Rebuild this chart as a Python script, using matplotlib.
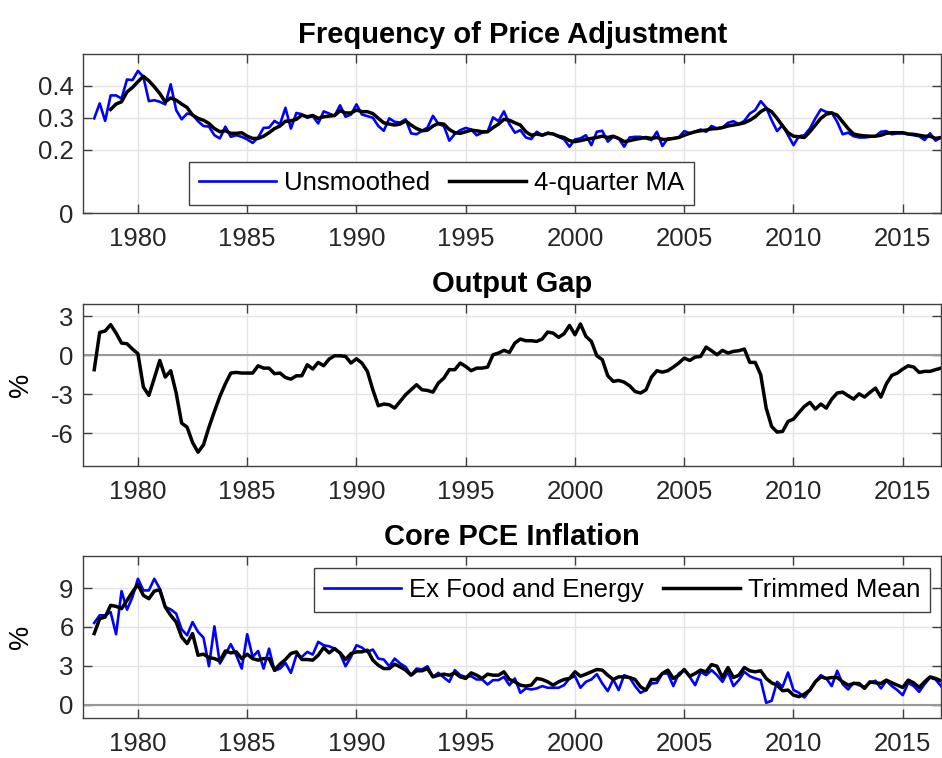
import numpy as np
import matplotlib
matplotlib.use("Agg")
import matplotlib.pyplot as plt

plt.rcParams['font.family'] = ['Liberation Sans', 'DejaVu Sans']
plt.rcParams['axes.unicode_minus'] = False

# ---------------- data (quarterly, 1978Q1 - 2016Q4) ----------------
start_year = 1978
n_quarters = 156

freq_unsmoothed = [
    0.298, 0.345, 0.29, 0.37,
    0.37, 0.36, 0.42, 0.418,
    0.447, 0.428, 0.352, 0.355,
    0.35, 0.342, 0.405, 0.324,
    0.295, 0.313, 0.31, 0.289,
    0.274, 0.272, 0.245, 0.235,
    0.272, 0.24, 0.245, 0.24,
    0.232, 0.221, 0.238, 0.268,
    0.269, 0.29, 0.279, 0.331,
    0.266, 0.315, 0.311, 0.30,
    0.305, 0.282, 0.32, 0.313,
    0.306, 0.339, 0.303, 0.31,
    0.342, 0.31, 0.305, 0.30,
    0.274, 0.259, 0.298, 0.287,
    0.285, 0.295, 0.251, 0.248,
    0.259, 0.269, 0.306, 0.28,
    0.274, 0.228, 0.249, 0.261,
    0.268, 0.263, 0.245, 0.253,
    0.256, 0.301, 0.289, 0.32,
    0.28, 0.253, 0.261, 0.238,
    0.233, 0.256, 0.245, 0.253,
    0.249, 0.24, 0.232, 0.209,
    0.232, 0.235, 0.245, 0.214,
    0.256, 0.259, 0.225, 0.24,
    0.235, 0.209, 0.238, 0.24,
    0.24, 0.235, 0.23, 0.256,
    0.211, 0.235, 0.235, 0.238,
    0.258, 0.251, 0.256, 0.263,
    0.256, 0.274, 0.266, 0.269,
    0.284, 0.289, 0.28, 0.29,
    0.313, 0.324, 0.352, 0.332,
    0.292, 0.258, 0.277, 0.245,
    0.214, 0.242, 0.245, 0.266,
    0.298, 0.326, 0.318, 0.316,
    0.287, 0.248, 0.253, 0.242,
    0.238, 0.238, 0.24, 0.242,
    0.256, 0.258, 0.248, 0.251,
    0.251, 0.248, 0.245, 0.242,
    0.23, 0.251, 0.228, 0.238,
]

freq_ma = [
    None, None, None, 0.326,
    0.343, 0.35, 0.381, 0.395,
    0.413, 0.43, 0.416, 0.397,
    0.376, 0.35, 0.362, 0.355,
    0.343, 0.332, 0.308, 0.298,
    0.292, 0.282, 0.266, 0.256,
    0.259, 0.251, 0.251, 0.253,
    0.242, 0.235, 0.235, 0.242,
    0.253, 0.266, 0.274, 0.289,
    0.29, 0.295, 0.308, 0.303,
    0.307, 0.298, 0.303, 0.305,
    0.307, 0.322, 0.315, 0.315,
    0.324, 0.319, 0.319, 0.313,
    0.298, 0.284, 0.28, 0.277,
    0.28, 0.29, 0.277, 0.266,
    0.259, 0.261, 0.274, 0.282,
    0.28, 0.263, 0.253, 0.251,
    0.256, 0.261, 0.259, 0.256,
    0.256, 0.269, 0.28, 0.295,
    0.292, 0.284, 0.277, 0.256,
    0.245, 0.249, 0.245, 0.251,
    0.249, 0.242, 0.238, 0.228,
    0.225, 0.228, 0.232, 0.235,
    0.238, 0.242, 0.238, 0.242,
    0.235, 0.225, 0.228, 0.232,
    0.235, 0.238, 0.235, 0.238,
    0.232, 0.232, 0.235, 0.238,
    0.245, 0.251, 0.256, 0.259,
    0.261, 0.265, 0.266, 0.269,
    0.274, 0.277, 0.28, 0.284,
    0.292, 0.303, 0.319, 0.329,
    0.319, 0.298, 0.274, 0.253,
    0.242, 0.24, 0.238, 0.256,
    0.277, 0.298, 0.311, 0.315,
    0.308, 0.287, 0.266, 0.249,
    0.245, 0.243, 0.242, 0.242,
    0.245, 0.251, 0.253, 0.253,
    0.253, 0.249, 0.248, 0.245,
    0.242, 0.242, 0.235, 0.238,
]

output_gap = [
    -1.1, 1.77, 1.88, 2.37,
    1.72, 0.95, 0.9, 0.49,
    0.13, -2.44, -3.08, -1.75,
    -0.39, -1.67, -1.18, -2.9,
    -5.22, -5.53, -6.71, -7.46,
    -6.89, -5.53, -4.32, -3.16,
    -2.19, -1.36, -1.31, -1.36,
    -1.36, -1.36, -0.8, -0.98,
    -0.98, -1.41, -1.36, -1.7,
    -1.83, -1.57, -1.57, -0.72,
    -1.05, -0.54, -0.8, -0.28,
    -0.03, -0.03, -0.08, -0.59,
    -0.26, -0.59, -1.23, -2.65,
    -3.88, -3.75, -3.8, -4.06,
    -3.55, -3.03, -2.65, -2.26,
    -2.65, -2.7, -2.83, -2.13,
    -1.75, -1.1, -1.1, -0.59,
    -0.85, -1.18, -0.98, -0.98,
    -0.9, 0.05, 0.18, 0.39,
    0.23, 0.95, 1.26, 1.13,
    1.13, 1.08, 1.26, 1.8,
    1.72, 1.39, 1.67, 2.31,
    1.59, 2.42, 1.47, 1.08,
    -0.03, -0.33, -1.57, -2.0,
    -1.93, -2.06, -2.34, -2.78,
    -2.9, -2.65, -1.67, -1.18,
    -1.29, -1.18, -0.9, -0.59,
    -0.21, -0.39, -0.13, -0.08,
    0.64, 0.36, 0.05, 0.39,
    0.18, 0.31, 0.36, 0.49,
    -0.54, -0.54, -1.49, -4.06,
    -5.48, -5.91, -5.86, -5.09,
    -4.91, -4.4, -3.93, -3.62,
    -4.14, -3.75, -4.06, -3.37,
    -2.9, -2.83, -3.11, -3.37,
    -2.96, -3.21, -2.85, -2.52,
    -3.21, -2.19, -1.54, -1.36,
    -1.05, -0.8, -0.9, -1.31,
    -1.23, -1.23, -1.1, -0.98,
]

pce_ex_food_energy = [
    6.31, 6.9, 6.9, 7.15,
    5.44, 8.77, 7.33, 8.31,
    9.72, 8.82, 8.82, 9.72,
    8.95, 7.54, 7.36, 7.03,
    5.82, 5.36, 6.38, 5.62,
    5.18, 2.97, 6.05, 3.18,
    3.9, 4.67, 3.82, 2.79,
    5.44, 3.69, 4.15, 2.79,
    4.33, 2.62, 2.79, 3.23,
    2.46, 3.82, 3.69, 4.08,
    3.87, 4.85, 4.59, 4.51,
    4.33, 3.95, 2.97, 3.69,
    4.59, 4.41, 4.08, 4.26,
    3.56, 3.49, 2.97, 3.56,
    3.18, 2.92, 2.28, 2.79,
    2.72, 2.97, 2.15, 2.46,
    2.1, 1.77, 2.67, 2.28,
    2.15, 2.2, 1.95, 1.95,
    1.56, 1.9, 1.9, 2.15,
    1.51, 2.03, 0.92, 1.26,
    1.18, 1.26, 1.44, 1.31,
    1.31, 1.31, 1.51, 2.03,
    2.2, 1.31, 1.77, 1.95,
    2.36, 1.64, 1.05, 1.95,
    1.13, 2.28, 2.1, 1.44,
    0.92, 1.13, 1.64, 1.69,
    2.41, 2.41, 1.44, 2.41,
    2.67, 2.15, 1.51, 2.54,
    2.28, 2.67, 2.28, 1.77,
    2.54, 1.44, 1.9, 2.54,
    2.2, 2.03, 1.9, 0.15,
    0.31, 1.77, 1.38, 2.49,
    1.13, 0.92, 0.56, 1.13,
    1.77, 2.28, 2.03, 1.44,
    2.62, 1.59, 1.18, 1.69,
    1.51, 1.38, 1.69, 1.85,
    1.26, 1.85, 1.44, 1.13,
    0.74, 1.69, 1.44, 1.0,
    1.59, 2.1, 1.95, 1.44,
]

pce_trimmed_mean = [
    5.49, 6.64, 6.77, 7.67,
    7.59, 7.41, 8.05, 8.69,
    9.28, 8.44, 8.18, 8.77,
    8.87, 7.54, 6.9, 6.38,
    5.23, 4.72, 5.49, 3.82,
    3.9, 3.64, 3.56, 3.38,
    4.15, 4.0, 4.08, 3.56,
    3.9, 3.56, 3.44, 3.56,
    3.56, 2.67, 3.13, 3.49,
    3.95, 4.08, 3.49, 3.49,
    3.44, 3.82, 4.41, 4.0,
    4.33, 4.0, 3.49, 3.95,
    4.08, 4.08, 4.21, 3.44,
    3.05, 2.79, 2.79, 3.13,
    2.92, 2.67, 2.28, 2.62,
    2.62, 2.79, 2.15, 2.28,
    2.36, 2.28, 2.46, 2.15,
    2.03, 2.46, 2.28, 2.03,
    2.36, 2.28, 2.28, 2.54,
    1.95, 1.77, 1.51, 1.44,
    1.51, 2.03, 1.95, 1.77,
    1.51, 1.77, 1.95, 2.03,
    2.54, 2.2, 2.36, 2.54,
    2.72, 2.67, 2.28, 1.95,
    2.15, 2.15, 2.1, 1.95,
    1.38, 1.13, 1.95, 1.95,
    2.41, 2.67, 2.03, 2.28,
    2.72, 2.2, 2.41, 2.67,
    2.54, 3.1, 2.97, 2.1,
    2.87, 2.1, 2.28, 2.87,
    2.62, 2.54, 2.62, 2.03,
    1.69, 1.51, 1.08, 1.13,
    0.74, 0.62, 0.82, 1.13,
    1.77, 2.15, 2.03, 2.1,
    2.1, 1.77, 1.51, 1.64,
    1.64, 1.26, 1.77, 1.69,
    1.64, 1.9, 1.69, 1.51,
    1.33, 1.9, 1.69, 1.33,
    1.77, 2.15, 2.03, 1.85,
]

x_ticks = [1980, 1985, 1990, 1995, 2000, 2005, 2010, 2015]
freq_yticks = [0, 0.2, 0.3, 0.4]
freq_yticklabels = ['0', '0.2', '0.3', '0.4']
gap_yticks = [-6, -3, 0, 3]
pce_yticks = [0, 3, 6, 9]

titles = ['Frequency of Price Adjustment', 'Output Gap', 'Core PCE Inflation']
freq_labels = ['Unsmoothed', '4-quarter MA']
pce_labels = ['Ex Food and Energy', 'Trimmed Mean']

# ---------------- styling ----------------
W, H = 942, 758
fig = plt.figure(figsize=(W / 100, H / 100), dpi=100)

def px_axes(left, top, right, bottom):
    return fig.add_axes([left / W, 1 - bottom / H, (right - left) / W, (bottom - top) / H])

ax1 = px_axes(83.3, 54.0, 941.0, 213.3)
ax2 = px_axes(83.3, 303.5, 941.0, 465.7)
ax3 = px_axes(83.3, 555.7, 941.0, 717.7)

dates = start_year + np.arange(n_quarters) / 4.0

SPINE = '#404040'
TICKC = '#262626'
GRID = '#e3e3e3'
FS = 18.5
BLUE = '#0000ff'

def style(ax):
    ax.set_xlim(1977.5, 2016.75)
    ax.set_xticks(x_ticks)
    ax.grid(True, color=GRID, linewidth=1.0)
    ax.set_axisbelow(True)
    for s in ax.spines.values():
        s.set_color(SPINE)
        s.set_linewidth(1.0)
    ax.tick_params(direction='in', length=6.2, width=1.0, color=SPINE,
                   top=True, right=True, labelsize=FS, labelcolor=TICKC)
    ax.tick_params(axis='x', pad=10)
    ax.tick_params(axis='y', pad=7)

def title(ax, t):
    ax.set_title(t, fontsize=21, fontweight='bold', pad=8, color='black')

def legend(ax, **kw):
    leg = ax.legend(borderaxespad=0, ncol=2, fontsize=FS, handlelength=3.0,
                    handletextpad=0.3, columnspacing=0.75, borderpad=0.38,
                    fancybox=False, framealpha=1, edgecolor=SPINE, **kw)
    leg.get_frame().set_linewidth(1.0)
    return leg

# Panel 1
style(ax1)
ax1.plot(dates, freq_unsmoothed, color=BLUE, lw=1.9, label=freq_labels[0])
ax1.plot(dates, np.array(freq_ma, dtype=float), color='black', lw=2.5, label=freq_labels[1])
ax1.set_ylim(0, 0.5)
ax1.set_yticks(freq_yticks)
ax1.set_yticklabels(freq_yticklabels)
title(ax1, titles[0])
legend(ax1, loc='upper left', bbox_to_anchor=(0.1236, 0.324))

# Panel 2
style(ax2)
ax2.axhline(0, color='#999999', lw=1.5, zorder=1)
ax2.plot(dates, output_gap, color='black', lw=2.5)
ax2.set_ylim(-8.5, 4)
ax2.set_yticks(gap_yticks)
ax2.set_ylabel('%', fontsize=FS + 1)
ax2.yaxis.set_label_coords(-0.057, 0.5)
title(ax2, titles[1])

# Panel 3
style(ax3)
ax3.axhline(0, color='#999999', lw=1.5, zorder=1)
ax3.plot(dates, pce_ex_food_energy, color=BLUE, lw=1.9, label=pce_labels[0])
ax3.plot(dates, pce_trimmed_mean, color='black', lw=2.5, label=pce_labels[1])
ax3.set_ylim(-1, 11.5)
ax3.set_yticks(pce_yticks)
ax3.set_ylabel('%', fontsize=FS + 1)
ax3.yaxis.set_label_coords(-0.057, 0.5)
title(ax3, titles[2])
legend(ax3, loc='upper right', bbox_to_anchor=(0.987, 0.922))

fig.savefig('out.png', dpi=100)
